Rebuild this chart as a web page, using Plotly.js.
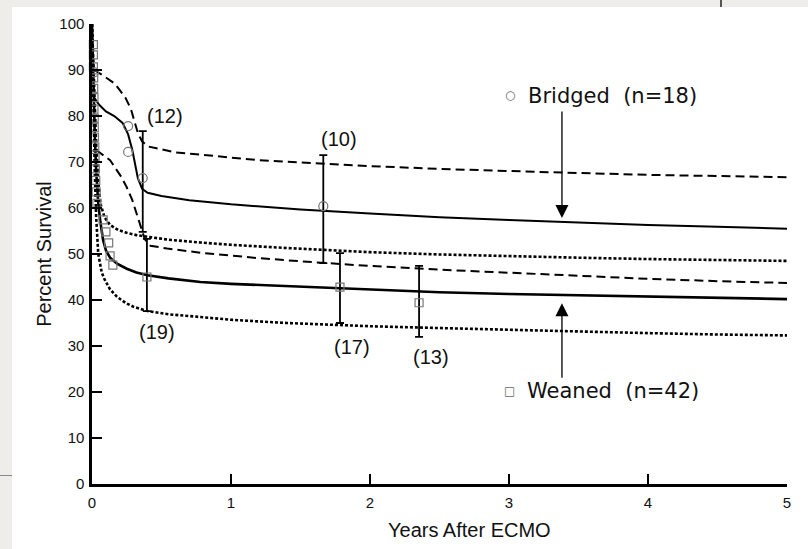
<!DOCTYPE html>
<html>
<head>
<meta charset="utf-8">
<script src="https://cdn.plot.ly/plotly-3.0.1.min.js"></script>
<style>
  html, body { margin: 0; padding: 0; background: #eeede9; width: 808px; height: 549px; overflow: hidden; }
  #chart { position: absolute; left: 12px; top: 7px; width: 796px; height: 542px; background: #fff; }
  #vline { position: absolute; left: 720px; top: 0; width: 2px; height: 7px; background: #555; }
  #hline { position: absolute; left: 0; top: 475px; width: 12px; height: 1px; background: #888; }
</style>
</head>
<body>
<div id="vline"></div>
<div id="hline"></div>
<div id="chart"></div>
<script>
// ---------- tick labels ----------
const yearTicks = [0, 1, 2, 3, 4, 5];
const pctTicks = [0, 10, 20, 30, 40, 50, 60, 70, 80, 90, 100];

// ---------- Bridged (n=18): survival curve and confidence limits (dashed) ----------
const bridgedT     = [0.015, 0.05, 0.1, 0.16, 0.22, 0.26, 0.29, 0.31, 0.33, 0.36, 0.40, 0.5, 0.7, 1.0, 1.5, 2.0, 2.5, 3.0, 3.5, 4.0, 4.5, 5.0];
const bridgedSurv  = [84, 82.5, 81, 80, 78.5, 76, 72.6, 69.5, 66.5, 64.2, 63.3, 62.6, 61.7, 60.8, 59.7, 58.8, 58.0, 57.4, 56.8, 56.3, 55.9, 55.5];
const bridgedHiT   = [0.015, 0.08, 0.165, 0.24, 0.28, 0.31, 0.33, 0.36, 0.40, 0.6, 1.0, 1.2, 1.5, 2.0, 2.5, 3.0, 3.5, 4.0, 4.5, 5.0];
const bridgedHi    = [90, 88.8, 87, 84, 81.5, 78.5, 76.3, 74.5, 73.4, 72.1, 70.9, 70.4, 69.9, 69.1, 68.5, 68.0, 67.6, 67.2, 66.9, 66.7];
const bridgedLoT   = [0.03, 0.08, 0.13, 0.21, 0.25, 0.29, 0.32, 0.35, 0.38, 0.42, 0.54, 0.8, 1.2, 1.6, 2.0, 2.5, 3.0, 3.5, 4.0, 4.5, 5.0];
const bridgedLo    = [72.6, 71.5, 70.4, 66.8, 64.5, 61.7, 58.8, 55.9, 53.2, 51.8, 51.2, 50.2, 49.1, 48.2, 47.4, 46.6, 45.9, 45.2, 44.6, 44.1, 43.7];

// ---------- Weaned (n=42): survival curve and confidence limits (dotted) ----------
const weanedT      = [0, 0.005, 0.01, 0.02, 0.03, 0.045, 0.06, 0.08, 0.1, 0.13, 0.18, 0.25, 0.32, 0.4, 0.55, 0.78, 1.0, 1.4, 2.0, 2.5, 3.0, 3.5, 4.0, 4.5, 5.0];
const weanedSurv   = [100, 92, 85, 76, 68, 61, 57, 53, 50.8, 49.2, 47.9, 46.8, 46, 45.4, 44.7, 43.9, 43.5, 43, 42.3, 41.7, 41.3, 41.0, 40.7, 40.4, 40.2];
const weanedHiT    = [0, 0.01, 0.02, 0.03, 0.045, 0.06, 0.09, 0.13, 0.19, 0.25, 0.32, 0.4, 0.55, 0.78, 1.0, 1.4, 2.0, 2.5, 3.0, 3.5, 4.0, 4.5, 5.0];
const weanedHi     = [100, 90, 82, 74, 66, 61, 58, 56.3, 55.2, 54.6, 54.1, 53.7, 53.1, 52.5, 52, 51.3, 50.4, 49.9, 49.5, 49.2, 48.9, 48.7, 48.5];
const weanedLoT    = [0, 0.01, 0.02, 0.03, 0.045, 0.07, 0.09, 0.13, 0.18, 0.24, 0.3, 0.4, 0.55, 0.78, 1.0, 1.4, 2.0, 2.5, 3.0, 3.5, 4.0, 4.5, 5.0];
const weanedLo     = [100, 82, 68, 58, 50, 46, 44.5, 42.3, 40.7, 39.4, 38.5, 37.6, 36.9, 36.3, 35.7, 35.0, 34.3, 33.9, 33.5, 33.1, 32.8, 32.5, 32.3];

// ---------- observed points ----------
const bridgedPtT   = [0.015, 0.26, 0.26];
const bridgedPtY   = [89.5, 77.8, 72.2];
const weanedPtT    = [0.01, 0.01, 0.01, 0.012, 0.012, 0.014, 0.014, 0.016, 0.016, 0.018, 0.02, 0.022, 0.024, 0.027, 0.03, 0.035, 0.08, 0.1, 0.12, 0.13, 0.15];
const weanedPtY    = [95.5, 93.3, 90.7, 88.3, 86, 84, 81.5, 79.5, 77.5, 75.4, 73.3, 71, 68.5, 66, 63.5, 61, 57.4, 54.8, 52.4, 49.6, 47.6];

// ---------- points with confidence bars and patients at risk ----------
const bridgedBarT  = [0.365, 1.664];
const bridgedBarY  = [66.5, 60.4];
const bridgedBarHi = [76.7, 71.5];
const bridgedBarLo = [54.8, 48.0];
const bridgedRisk  = [12, 10];
const weanedBarT   = [0.395, 1.784, 2.353];
const weanedBarY   = [45, 42.8, 39.4];
const weanedBarHi  = [53.3, 50.2, 47.4];
const weanedBarLo  = [37.6, 35.0, 32.0];
const weanedRisk   = [19, 17, 13];

const groupLabels  = ['Bridged\u00a0\u00a0(n=18)', 'Weaned\u00a0\u00a0(n=42)'];

const lineTrace = (x, y, width, dash) => ({
  x: x, y: y, type: 'scatter', mode: 'lines', showlegend: false, hoverinfo: 'skip',
  cliponaxis: false,
  line: { color: '#000', width: width, dash: dash }
});

const diff = (a, b) => a.map((v, i) => v - b[i]);

const traces = [
  lineTrace(bridgedHiT, bridgedHi, 2, '9px,5px'),
  lineTrace(bridgedLoT, bridgedLo, 2, '9px,5px'),
  lineTrace(bridgedT, bridgedSurv, 2, 'solid'),
  lineTrace(weanedHiT, weanedHi, 2.6, '3px,2px'),
  lineTrace(weanedLoT, weanedLo, 2.6, '3px,2px'),
  lineTrace(weanedT, weanedSurv, 2.6, 'solid'),
  {
    x: bridgedPtT, y: bridgedPtY, type: 'scatter', mode: 'markers', showlegend: false, cliponaxis: false,
    marker: { symbol: 'circle-open', size: 9, color: '#777', line: { width: 1.2 } }
  },
  {
    x: weanedPtT, y: weanedPtY, type: 'scatter', mode: 'markers', showlegend: false, cliponaxis: false,
    marker: { symbol: 'square-open', size: 8, color: '#777', line: { width: 1.2 } }
  },
  {
    x: bridgedBarT, y: bridgedBarY, type: 'scatter', mode: 'markers', showlegend: false, cliponaxis: false,
    marker: { symbol: 'circle-open', size: 9, color: '#777', line: { width: 1.2 } },
    error_y: { type: 'data', symmetric: false, array: diff(bridgedBarHi, bridgedBarY), arrayminus: diff(bridgedBarY, bridgedBarLo),
               color: '#000', thickness: 1.8, width: 4 }
  },
  {
    x: weanedBarT, y: weanedBarY, type: 'scatter', mode: 'markers', showlegend: false, cliponaxis: false,
    marker: { symbol: 'square-open', size: 8, color: '#777', line: { width: 1.2 } },
    error_y: { type: 'data', symmetric: false, array: diff(weanedBarHi, weanedBarY), arrayminus: diff(weanedBarY, weanedBarLo),
               color: '#000', thickness: 1.8, width: 4 }
  }
];

const labelFont = { family: 'Liberation Sans, Arial, Helvetica, sans-serif', size: 20, color: '#111' };
const riskLabel = (n, x, y) => ({ x: x, y: y, xref: 'x', yref: 'y', text: '(' + n + ')', showarrow: false,
  xanchor: 'center', yanchor: 'middle', font: labelFont });

const legendFont = { family: 'DejaVu Sans, sans-serif', size: 21, color: '#111' };

const annotations = [
  riskLabel(bridgedRisk[0], 0.525, 80.0),
  riskLabel(bridgedRisk[1], 1.78, 75.0),
  riskLabel(weanedRisk[0], 0.467, 33.0),
  riskLabel(weanedRisk[1], 1.867, 29.7),
  riskLabel(weanedRisk[2], 2.44, 27.6),
  // group labels
  { x: 3.007, y: 84.6, xref: 'x', yref: 'y', text: '\u25CB', showarrow: false, xanchor: 'center', yanchor: 'middle',
    font: { family: 'DejaVu Sans, sans-serif', size: 12, color: '#666' } },
  { x: 3.125, y: 84.4, xref: 'x', yref: 'y', text: groupLabels[0], showarrow: false, xanchor: 'left', yanchor: 'middle', font: legendFont },
  { x: 3.007, y: 20.2, xref: 'x', yref: 'y', text: '\u25A1', showarrow: false, xanchor: 'center', yanchor: 'middle',
    font: { family: 'DejaVu Sans, sans-serif', size: 12, color: '#666' } },
  { x: 3.112, y: 20.2, xref: 'x', yref: 'y', text: groupLabels[1], showarrow: false, xanchor: 'left', yanchor: 'middle', font: legendFont },
  // arrows
  { x: 3.381, y: 57.8, xref: 'x', yref: 'y', ax: 0, ay: -108, text: '', showarrow: true,
    arrowhead: 2, arrowsize: 2, arrowwidth: 1.3, arrowcolor: '#000', standoff: 0 },
  { x: 3.381, y: 39.3, xref: 'x', yref: 'y', ax: 0, ay: 76, text: '', showarrow: true,
    arrowhead: 2, arrowsize: 2, arrowwidth: 1.3, arrowcolor: '#000', standoff: 0 },
  // x axis title
  { x: 2.716, y: -0.1, xref: 'x', yref: 'paper', text: 'Years After ECMO', showarrow: false,
    xanchor: 'center', yanchor: 'middle', font: labelFont }
];

const axisCommon = {
  showgrid: false, zeroline: false, showline: true, linecolor: '#000', linewidth: 2.6,
  ticks: 'inside', ticklen: 10, tickwidth: 2, tickcolor: '#000',
  tickfont: { family: 'Liberation Sans, Arial, Helvetica, sans-serif', size: 15, color: '#111' },
  tickmode: 'array', fixedrange: true
};

const layout = {
  width: 796, height: 542,
  margin: { l: 80, r: 21, t: 17, b: 65 },
  paper_bgcolor: '#fff', plot_bgcolor: '#fff',
  showlegend: false,
  xaxis: Object.assign({}, axisCommon, { range: [0, 5], tickvals: yearTicks, ticktext: yearTicks.map(String), ticklabelstandoff: 3 }),
  yaxis: Object.assign({}, axisCommon, { range: [0, 100], tickvals: pctTicks, ticktext: pctTicks.map(String), ticklabelstandoff: 2,
    title: { text: 'Percent Survival', font: labelFont, standoff: 3 } }),
  annotations: annotations
};

Plotly.newPlot('chart', traces, layout, { displayModeBar: false, staticPlot: true });
</script>
</body>
</html>
